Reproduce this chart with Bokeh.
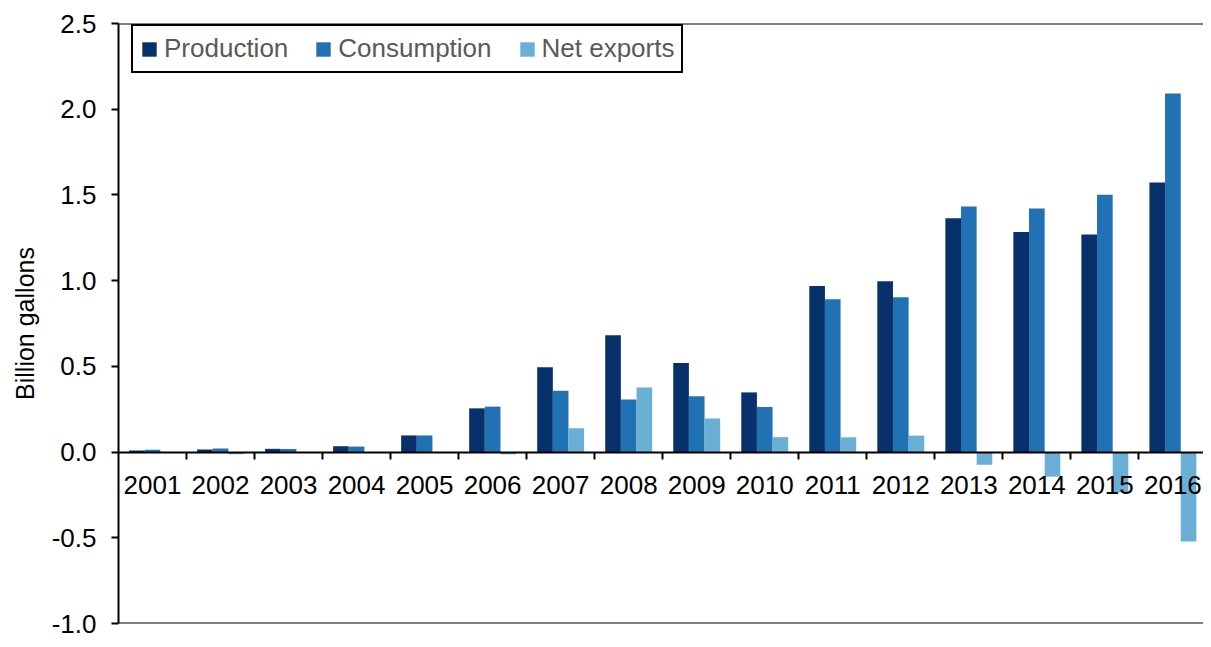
import numpy as np
from bokeh.plotting import figure
from bokeh.models import (Range1d, LinearAxis, FixedTicker, NumeralTickFormatter,
                          Legend, LegendItem)
from bokeh.embed import file_html
from bokeh.resources import INLINE

years = ["2001", "2002", "2003", "2004", "2005", "2006", "2007", "2008",
         "2009", "2010", "2011", "2012", "2013", "2014", "2015", "2016"]
production = [0.009, 0.015, 0.019, 0.034, 0.097, 0.255, 0.495, 0.682,
              0.520, 0.348, 0.969, 0.996, 1.364, 1.284, 1.269, 1.573]
consumption = [0.014, 0.021, 0.018, 0.032, 0.097, 0.265, 0.358, 0.307,
               0.326, 0.263, 0.891, 0.903, 1.433, 1.421, 1.501, 2.091]
net_exports = [-0.003, -0.013, -0.003, -0.002, -0.002, -0.013, 0.139, 0.377,
               0.196, 0.087, 0.086, 0.096, -0.074, -0.143, -0.236, -0.522]
series_names = ["Production", "Consumption", "Net exports"]
colors = ["#08306B", "#2171B5", "#6BAED6"]
y_ticks = [-1.0, -0.5, 0.0, 0.5, 1.0, 1.5, 2.0, 2.5]

FONT = "Liberation Sans"

centers = np.arange(len(years)) + 0.5
bounds = np.arange(1, len(years))

p = figure(width=1203, height=639, output_backend="svg", toolbar_location=None,
           x_range=Range1d(0, 15.95), y_range=Range1d(-1.0, 2.5),
           x_axis_location=None, min_border_left=118, min_border_right=0,
           min_border_top=23, min_border_bottom=16)
p.grid.visible = False
p.outline_line_color = None

bw = 0.23
renderers = []
for i, (vals, c) in enumerate(zip([production, consumption, net_exports], colors)):
    r = p.vbar(x=centers + (i - 1) * bw, top=vals, bottom=0, width=bw,
               fill_color=c, line_color=None)
    renderers.append(r)

# y axis
ya = p.yaxis[0]
ya.ticker = FixedTicker(ticks=y_ticks)
ya.formatter = NumeralTickFormatter(format="0.0")
ya.minor_tick_line_color = None
ya.major_tick_in = 0
ya.major_tick_out = 7
ya.major_tick_line_width = 2
ya.axis_line_width = 2
ya.major_label_text_font = FONT
ya.major_label_text_font_size = "26px"
ya.major_label_text_color = "black"
ya.major_label_standoff = 15
ya.axis_label = "Billion gallons"
ya.axis_label_text_font = FONT
ya.axis_label_text_font_size = "25px"
ya.axis_label_text_font_style = "normal"
ya.axis_label_text_color = "black"
ya.axis_label_standoff = 10

# category axis at zero
xa = LinearAxis(fixed_location=0,
                ticker=FixedTicker(ticks=list(centers), minor_ticks=list(bounds)),
                major_label_overrides={float(c): y for c, y in zip(centers, years)})
xa.major_tick_line_color = None
xa.major_tick_in = 0
xa.major_tick_out = 0
xa.minor_tick_in = 0
xa.minor_tick_out = 7
xa.minor_tick_line_width = 2
xa.minor_tick_line_color = "black"
xa.axis_line_width = 2
xa.major_label_text_font = FONT
xa.major_label_text_font_size = "26px"
xa.major_label_text_color = "black"
xa.major_label_standoff = 17
p.add_layout(xa, "below")

# top and bottom frame lines
for loc, side in [(2.5, "above"), (-1.0, "below")]:
    ax = LinearAxis(fixed_location=loc, ticker=FixedTicker(ticks=[]))
    ax.major_label_text_font_size = "0px"
    ax.major_tick_line_color = None
    ax.minor_tick_line_color = None
    ax.axis_line_width = 2
    p.add_layout(ax, side)

legend = Legend(items=[LegendItem(label=n, renderers=[r]) for n, r in zip(series_names, renderers)],
                orientation="horizontal", location=(13, 550))
legend.label_text_font = FONT
legend.label_text_font_size = "26px"
legend.label_text_color = "#595959"
legend.glyph_width = 18
legend.glyph_height = 18
legend.label_standoff = 6
legend.spacing = 26
legend.padding = 7
legend.margin = 0
legend.border_line_color = "black"
legend.border_line_width = 2
legend.border_line_alpha = 1
legend.background_fill_alpha = 1
p.add_layout(legend, "center")

open("out.html", "w").write(file_html(p, INLINE))
